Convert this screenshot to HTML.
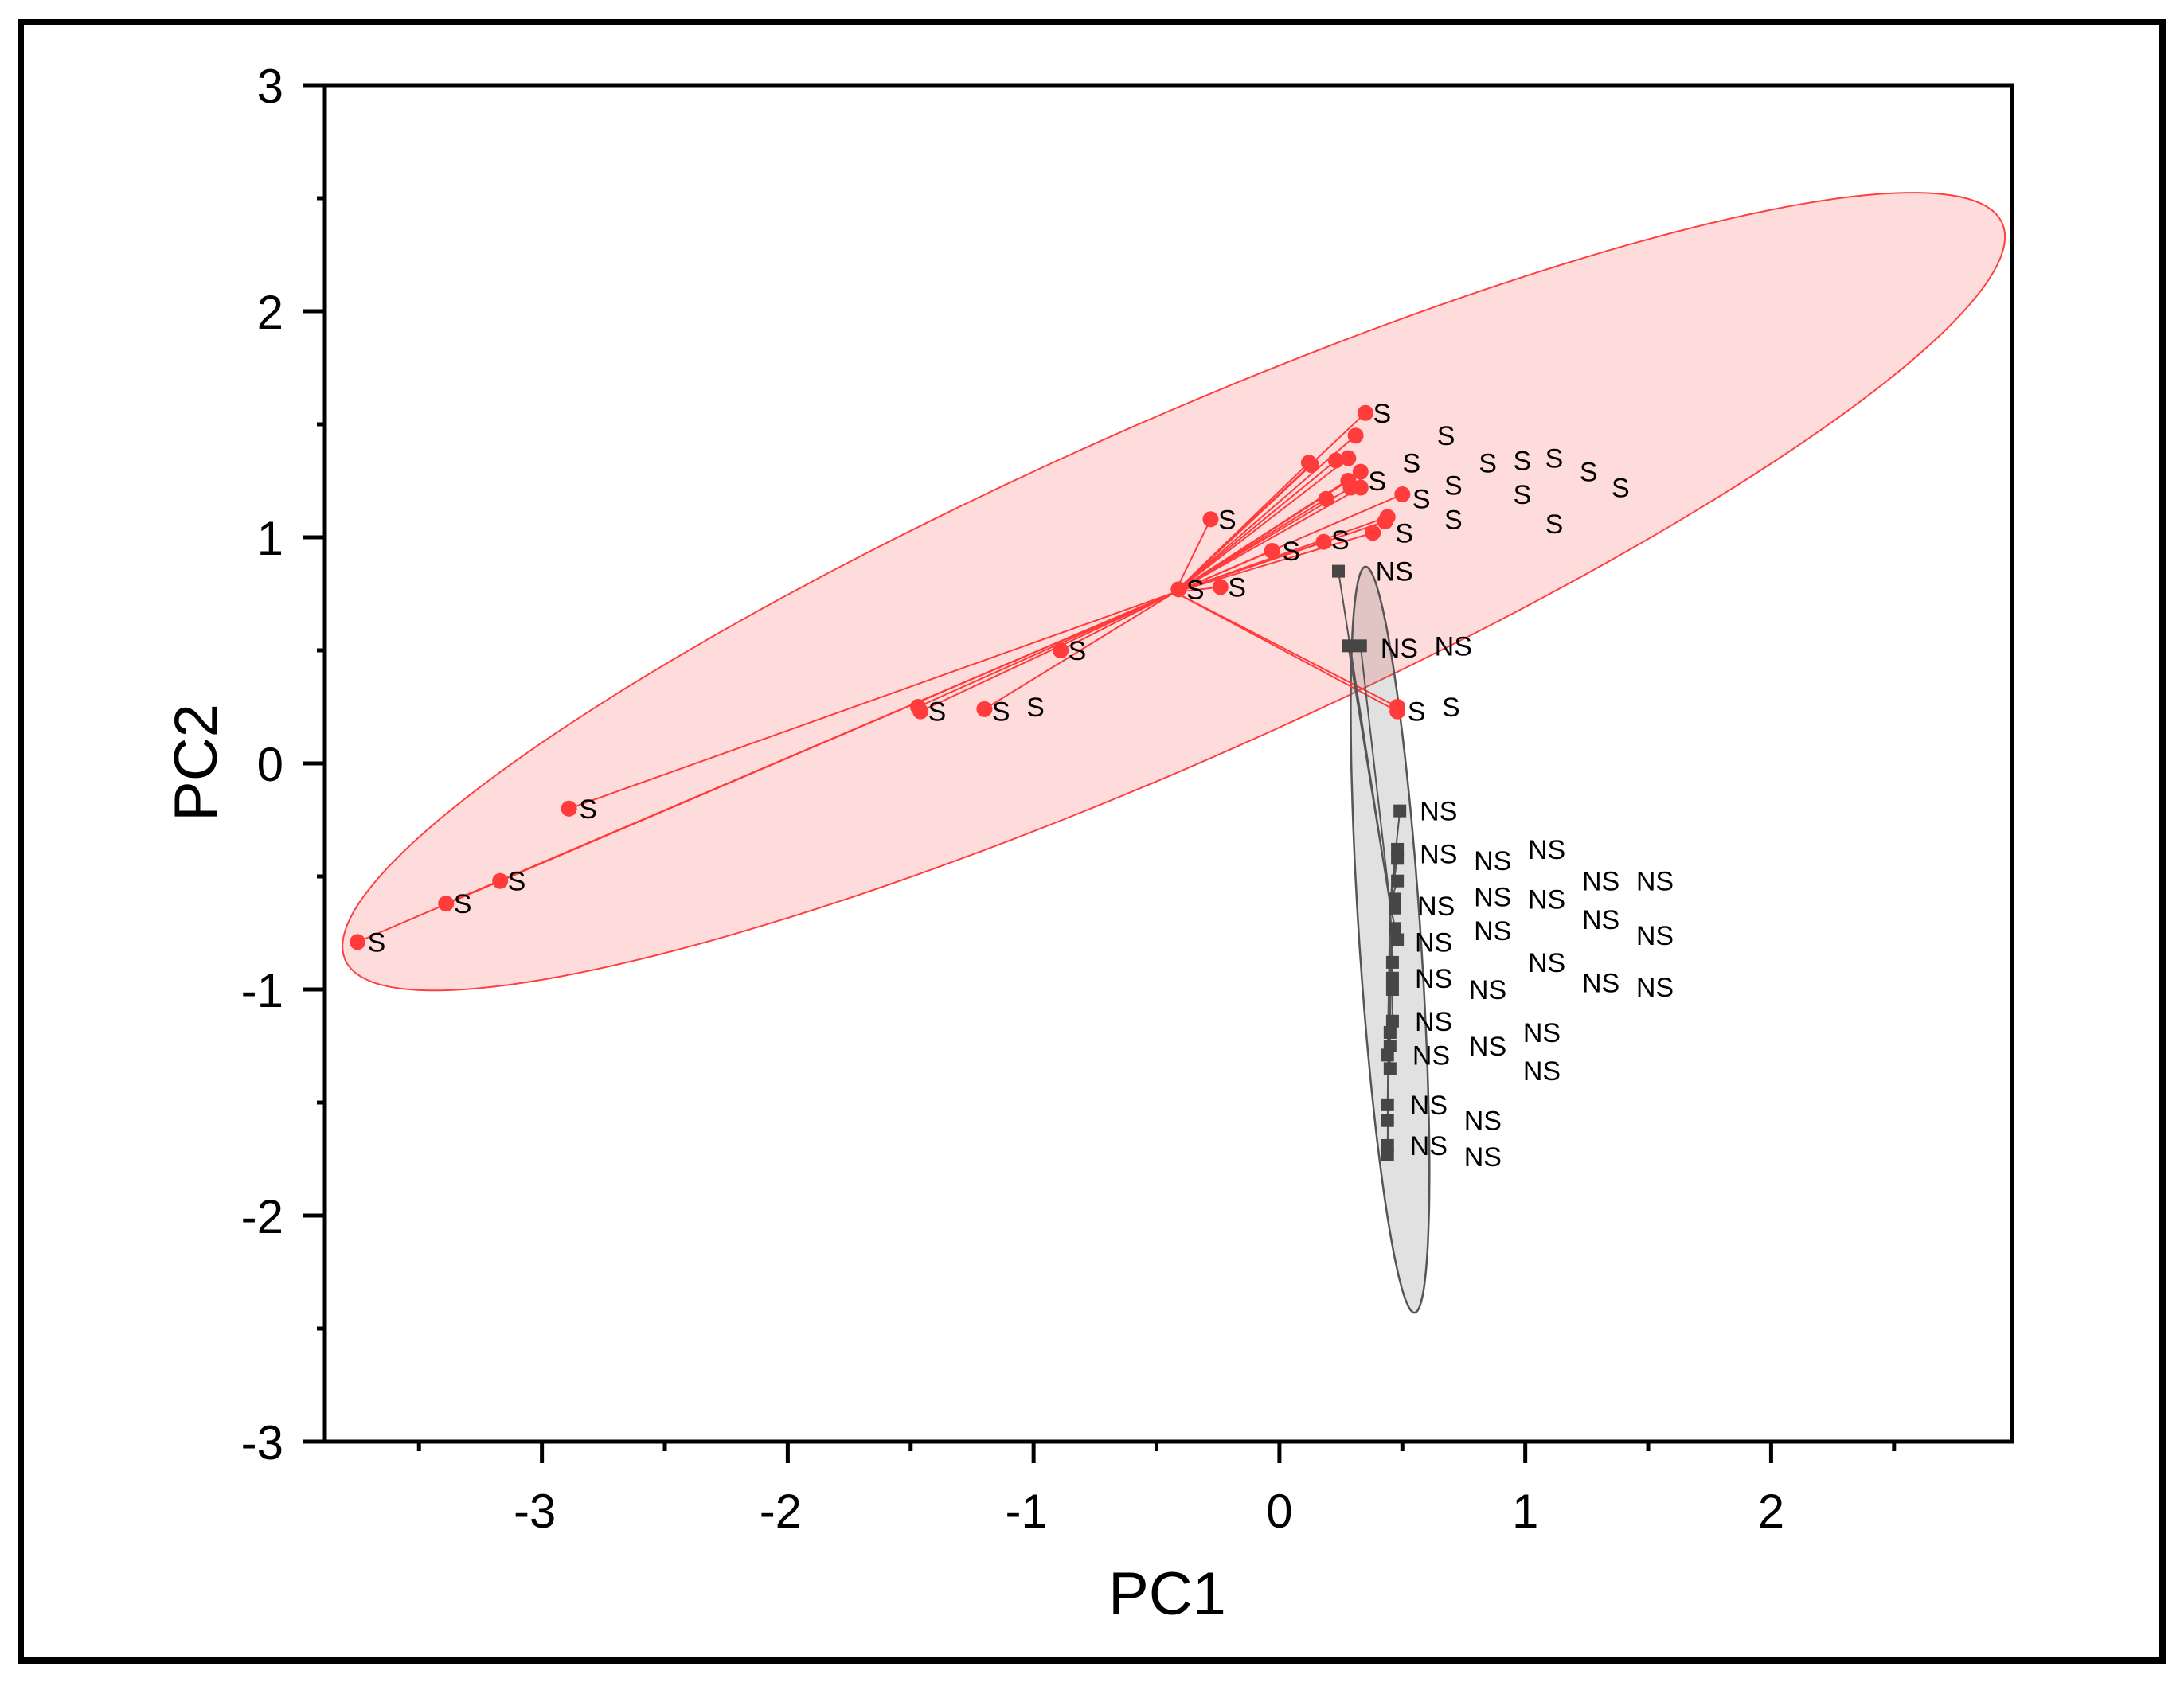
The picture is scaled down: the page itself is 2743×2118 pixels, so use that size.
<!DOCTYPE html>
<html><head><meta charset="utf-8"><style>
html,body{margin:0;padding:0;background:#fff;}
svg{display:block;font-family:"Liberation Sans",Arial,sans-serif;}
</style></head><body>
<svg id="chart" width="2743" height="2118" viewBox="0 0 2743 2118" xmlns="http://www.w3.org/2000/svg">
<rect x="26" y="28" width="2690" height="2058" fill="#fff" stroke="#000" stroke-width="8"/>
<g id="plot"></g>
</svg>
<script>
const xDomain = [-3.883, 2.98];
const yDomain = [-3, 3];
const xTicks = [-3, -2, -1, 0, 1, 2];
const yTicks = [-3, -2, -1, 0, 1, 2, 3];
const sX = [0.35,0.31,0.12,0.13,0.23,0.28,0.33,0.28,0.29,0.33,0.19,0.50,0.43,0.44,0.38,0.18,-0.03,-0.28,-0.41,-0.24,-0.89,0.48,0.48,-1.47,-1.46,-1.20,-2.89,-3.17,-3.39,-3.75];
const sY = [1.55,1.45,1.33,1.32,1.34,1.35,1.29,1.25,1.22,1.22,1.17,1.19,1.07,1.09,1.02,0.98,0.94,1.08,0.77,0.78,0.50,0.25,0.23,0.25,0.23,0.24,-0.20,-0.52,-0.62,-0.79];
const sCentroid = [-0.425, 0.757];
const sLabelX = [0.41,0.67,0.53,0.84,0.98,1.11,1.25,1.38,0.70,0.98,0.57,0.70,1.11,0.50,0.39,0.24,0.04,-0.22,-0.35,-0.18,-0.83,-1.00,-1.14,0.55,0.69,-1.40,-2.82,-3.11,-3.33,-3.68];
const sLabelY = [1.55,1.45,1.33,1.33,1.34,1.35,1.29,1.22,1.23,1.19,1.17,1.08,1.06,1.02,1.25,0.99,0.94,1.08,0.77,0.78,0.50,0.25,0.23,0.23,0.25,0.23,-0.20,-0.52,-0.62,-0.79];
const nsX = [0.24,0.28,0.33,0.49,0.48,0.48,0.48,0.47,0.47,0.47,0.48,0.46,0.46,0.46,0.46,0.45,0.45,0.44,0.45,0.44,0.44,0.44,0.44];
const nsY = [0.85,0.52,0.52,-0.21,-0.38,-0.42,-0.52,-0.60,-0.64,-0.73,-0.78,-0.88,-0.95,-1.00,-1.14,-1.19,-1.25,-1.29,-1.35,-1.51,-1.58,-1.69,-1.73];
const nsCentroid = [0.45, -0.62];
const nsLabelX = [0.42,0.44,0.66,0.60,0.60,0.82,1.04,0.59,0.82,1.04,1.26,1.48,0.58,0.82,1.26,1.48,0.58,1.04,0.80,1.26,1.48,0.58,1.02,0.80,0.57,1.02,0.56,0.78,0.56,0.78];
const nsLabelY = [0.85,0.51,0.52,-0.21,-0.40,-0.43,-0.38,-0.63,-0.59,-0.60,-0.52,-0.52,-0.79,-0.74,-0.69,-0.76,-0.95,-0.88,-1.00,-0.97,-0.99,-1.14,-1.19,-1.25,-1.29,-1.36,-1.51,-1.58,-1.69,-1.74];
const sEllipse = {cx:-0.43, cy:0.76, ax:3.37, ay:1.63, bx:0.277, by:-0.676};
const nsEllipse = {cx:0.45, cy:-0.78, ax:0.10, ay:-1.65, bx:0.125, by:0.01};

const L=408,R=2527,T=107,B=1811;
const sx=v=>L+(v-xDomain[0])/(xDomain[1]-xDomain[0])*(R-L);
const sy=v=>B-(v-yDomain[0])/(yDomain[1]-yDomain[0])*(B-T);
const NS='http://www.w3.org/2000/svg';
const g=document.getElementById('plot');
function mk(tag,attrs,parent){const e=document.createElementNS(NS,tag);for(const k in attrs)e.setAttribute(k,attrs[k]);(parent||g).appendChild(e);return e;}
function ellPath(e){let d='';for(let i=0;i<=200;i++){const t=i/200*2*Math.PI;const x=e.cx+e.ax*Math.cos(t)+e.bx*Math.sin(t);const y=e.cy+e.ay*Math.cos(t)+e.by*Math.sin(t);d+=(i?'L':'M')+sx(x).toFixed(1)+','+sy(y).toFixed(1);}return d+'Z';}

const e1=mk('path',{d:ellPath(sEllipse),fill:'rgba(255,40,40,0.16)',stroke:'#ff4040','stroke-width':2});


const e2=mk('path',{d:ellPath(nsEllipse),fill:'rgba(120,120,120,0.22)',stroke:'#555','stroke-width':2.5});



for(let i=0;i<sX.length;i++){
  const l=mk('line',{x1:sx(sCentroid[0]),y1:sy(sCentroid[1]),x2:sx(sX[i]),y2:sy(sY[i]),stroke:'#ff3b3b','stroke-width':2});
  
  
}
for(let i=0;i<nsX.length;i++){
  const l=mk('line',{x1:sx(nsCentroid[0]),y1:sy(nsCentroid[1]),x2:sx(nsX[i]),y2:sy(nsY[i]),stroke:'#555','stroke-width':2});
  
  
}
for(let i=0;i<sX.length;i++){
  const c=mk('circle',{cx:sx(sX[i]),cy:sy(sY[i]),r:10,fill:'#ff3b3b'});
  
  
}
for(let i=0;i<nsX.length;i++){
  const r=mk('rect',{x:sx(nsX[i])-8,y:sy(nsY[i])-8,width:16,height:16,fill:'#464646'});
  
  
}
for(let i=0;i<sLabelX.length;i++){
  const t=mk('text',{x:sx(sLabelX[i])-9,y:sy(sLabelY[i])+12,'font-size':34,fill:'#000'});
  t.textContent='S';
  
  
}
for(let i=0;i<nsLabelX.length;i++){
  const t=mk('text',{x:sx(nsLabelX[i])-9,y:sy(nsLabelY[i])+12,'font-size':34,fill:'#000'});
  t.textContent='NS';
  
  
}
const fr=mk('rect',{x:L,y:T,width:R-L,height:B-T,fill:'none',stroke:'#000','stroke-width':5});


for(let v=-3.5;v<=2.5001;v+=0.5){
  const major=Math.abs(v-Math.round(v))<1e-6;
  const tk=mk('line',{x1:sx(v),y1:B,x2:sx(v),y2:B+(major?27:12),stroke:'#000','stroke-width':5});
  
  
}
for(let v=-3;v<=3.0001;v+=0.5){
  const major=Math.abs(v-Math.round(v))<1e-6;
  const tk=mk('line',{x1:L,y1:sy(v),x2:L-(major?27:10),y2:sy(v),stroke:'#000','stroke-width':5});
  
  
}
xTicks.forEach(v=>{
  const t=mk('text',{x:sx(v)-(v<0?9:0),y:B+108,'font-size':60,'text-anchor':'middle',fill:'#000'});
  t.textContent=String(v);
  
  
});
yTicks.forEach(v=>{
  const t=mk('text',{x:356,y:sy(v)+22,'font-size':60,'text-anchor':'end',fill:'#000'});
  t.textContent=String(v);
  
  
});
const xt=mk('text',{x:1466,y:2028,'font-size':76,'text-anchor':'middle',fill:'#000'});
xt.textContent='PC1';


const yt=mk('text',{x:0,y:0,'font-size':76,'text-anchor':'middle',fill:'#000',transform:'translate(272,958) rotate(-90)'});
yt.textContent='PC2';


</script>
</body></html>
